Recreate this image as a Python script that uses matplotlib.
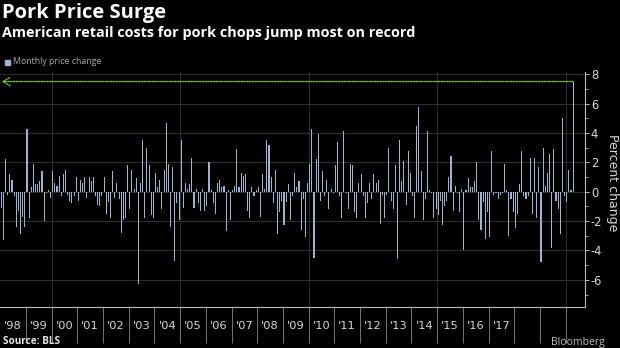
import matplotlib
matplotlib.use("Agg")
import matplotlib.pyplot as plt
from matplotlib.ticker import FixedLocator, MultipleLocator
import numpy as np

# Monthly % change in pork chop retail price, Jan 1998 onward
seg_1998_2001 = [-1.1, -3.3, 2.2, -0.2, 1.2, 0.8, -0.3, -2.4, -1.3, -2.9, -1.7, -2.4,
                 4.3, -1.8, 0.3, 1.9, 0.5, 0.5, 0.7, 1.4, -2.0, -0.1, 0.1, -0.4,
                 1.4, 0.6, 0.4, 1.1, -0.3, 1.2, 1.5, -0.2, -0.6, -0.8, -0.3, 1.0,
                 -0.6, 0.8, 0.6, 1.0, -0.4, 1.0, 0.7, 1.0, -0.3, -0.9]
seg_2001_2005 = [-1.0, -0.3, 1.0, -1.5, -0.7, -1.8, 1.4, -0.4, 0.6, -0.5, -2.8, -1.9,
                 -1.8, 1.8, -1.2, 1.5, 0.2, 0.9, -6.3, 0.6, 3.5, -1.8, 3.0, 1.8,
                 -1.6, -1.8, 1.3, 0.3, 0.8, -1.2, 1.5, 4.7, 1.9, -2.4, 1.7, -4.7,
                 -0.8, -1.9, 3.5, -1.1, 0.6, 0.2, 0.5, 2.3]
seg_2005_2009 = [-1.1, 0.2, -0.8, -1.3, 0.2, -1.3, -1.0, 2.0, 0.1, -0.8, -1.5, 0.6,
                 0.8, 0.3, 0.4, -2.7, 0.1, -1.9, 0.1, 0.4, 2.9, 0.3, 1.3, 1.1,
                 1.2, -1.3, -1.8, 0.3, -0.3, 0.1, 0.3, -1.7, 1.2, 0.2, 3.5, 3.2,
                 1.0, -0.8, 1.5, -2.9, -1.4, -0.6, -2.3, -0.7, 0.5]
seg_2009_2012 = [-1.9, -0.3, 1.3, 0.3, 0.7, -2.6, -0.5, -3.1, 0.6, 1.9, 4.3, -4.5,
                 2.2, 3.9, -0.6, 1.4, -0.3, 0.8, -1.2, 0.2, -0.1, 1.8, 3.4, -0.3,
                 -1.8, 4.1, -0.1, -1.2, 1.9, 1.8, -1.4, -1.8, 0.6, 1.2, -0.3, -1.8,
                 -0.8, 0.6, -0.5, 1.2, 0.6, 0.8, -2.2, -0.2]
seg_2012_2016 = [-1.8, -0.2, 3.0, -0.6, -1.2, 1.8, -4.6, 3.5, 0.7, 2.1, -0.9, 2.8,
                 1.3, -0.3, -1.8, 4.5, 5.8, 1.4, -1.9, -0.5, 4.1, 0.1, -0.1, -1.8,
                 -1.2, -1.6, -0.6, -2.3, -1.0, -0.6, 1.0, 2.4, -1.3, 0.4, -0.1, -1.4,
                 0.2, -4.0, 0.1, 0.9, 0.3, 0.3, 0.7, 2.0]
seg_2016_2020 = [-1.9, -2.6, -0.7, -3.2, -1.4, -3.1, 2.8, -0.2, -0.1, -0.5, -0.2, -0.1,
                 1.9, 0.1, -3.0, -0.5, -1.4, -2.5, -1.5, 0.5, 2.8, -0.3, -0.5, -0.3,
                 2.3, -1.5, 2.3, -1.8, 1.7, -4.8, 3.0, 0.4, 1.3, 2.6, -3.8, 2.9,
                 -0.6, -1.2, -2.9, 5.0, -0.3, -0.7, 1.5, 0.1, 7.5]

values = (seg_1998_2001 + seg_2001_2005 + seg_2005_2009 +
          seg_2009_2012 + seg_2012_2016 + seg_2016_2020)

year_labels = ["'98", "'99", "'00", "'01", "'02", "'03", "'04", "'05", "'06", "'07",
               "'08", "'09", "'10", "'11", "'12", "'13", "'14", "'15", "'16", "'17"]
y_ticks = [-6, -4, -2, 0, 2, 4, 6, 8]
record_value = 7.5

BG = "black"
BAR = "#a2b2cc"
GRID = "#2e2e2e"
TXT = "#d9d9d9"
GREEN = "#79c11a"

fig = plt.figure(figsize=(6.2, 3.48), dpi=100, facecolor=BG)
ax = fig.add_axes([0.0, 1 - 307 / 348, 585 / 620, (307 - 72) / 348])
ax.set_facecolor(BG)

x = np.arange(len(values))
ax.bar(x, values, width=0.5, color=BAR, linewidth=0, zorder=3)

left = -0.6
ax.set_xlim(left, left + 585 * 12 / 25.7)
ax.set_ylim(-7.85, 8.15)

# horizontal gridlines
for v in y_ticks:
    ax.axhline(v, color=GRID, lw=0.8, zorder=1)
# vertical gridlines every 5 years
for k in [2, 7, 12, 17, 22]:
    ax.axvline(12 * k - 0.5, color=GRID, lw=0.8, zorder=1)

# x ticks at year boundaries, labels at mid-year
ax.xaxis.set_major_locator(FixedLocator([12 * k - 0.5 for k in range(1, 23)]))
ax.set_xticklabels([])
ax.xaxis.set_minor_locator(FixedLocator([12 * k + 5.5 for k in range(len(year_labels))]))
ax.set_xticklabels(year_labels, minor=True)
ax.tick_params(axis="x", which="major", length=26, width=0.6, color="#8a8a8a")
ax.tick_params(axis="x", which="minor", length=0, pad=10, labelsize=8.2, labelcolor=TXT)

# y axis on the right
ax.yaxis.tick_right()
ax.set_yticks(y_ticks)
ax.set_yticklabels([str(v) for v in y_ticks])
ax.yaxis.set_minor_locator(MultipleLocator(1))
ax.tick_params(axis="y", which="major", length=3, width=0.7, color="#bbbbbb",
               labelsize=8.3, labelcolor=TXT, pad=1.2)
ax.tick_params(axis="y", which="minor", length=2, width=0.6, color="#bbbbbb")
fig.text(612 / 620, 1 - 183 / 348, "Percent change", color=TXT, fontsize=9.0,
         rotation=270, va="center", ha="center")

for s in ["top", "left"]:
    ax.spines[s].set_visible(False)
ax.spines["right"].set_color("#bbbbbb")
ax.spines["bottom"].set_color("#bbbbbb")
ax.spines["right"].set_linewidth(0.8)
ax.spines["bottom"].set_linewidth(0.8)

# record arrow
last = len(values) - 1
ax.annotate("", xy=(0.2, record_value), xytext=(last, record_value),
            arrowprops=dict(arrowstyle="->,head_length=0.5,head_width=0.3",
                            color=GREEN, lw=1.0, linestyle=(0, (1, 1)),
                            shrinkA=0, shrinkB=0), zorder=4)

# texts
fig.text(0.004, 1 - 3 / 348, "Pork Price Surge", color="white", fontsize=14.5,
         fontweight="bold", family="Open Sans", va="top", ha="left")
fig.text(0.004, 1 - 26 / 348, "American retail costs for pork chops jump most on record",
         color="white", fontsize=10.4, fontweight="bold", family="Open Sans",
         va="top", ha="left")
fig.patches.append(plt.Rectangle((5 / 620, 1 - 65 / 348), 4.5 / 620, 5 / 348,
                                 transform=fig.transFigure, color=BAR, figure=fig))
fig.text(13 / 620, 1 - 62 / 348, "Monthly price change", color="#aaaaaa",
         fontsize=6.3, family="Open Sans", va="center", ha="left")
fig.text(0.005, 1 - 342 / 348, "Source: BLS", color="#e6e6e6", fontsize=7.2,
         fontweight="bold", family="Open Sans", va="center", ha="left")
fig.text(0.975, 1 - 342 / 348, "Bloomberg", color="#bdbdbd", fontsize=7.5,
         family="Open Sans", va="center", ha="right")

fig.savefig("out.png", dpi=100, facecolor=BG)
